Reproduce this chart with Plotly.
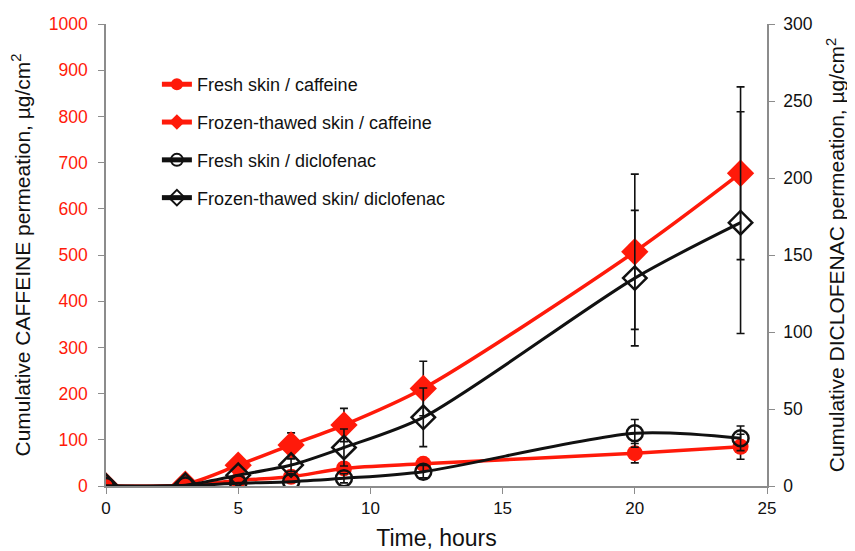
import plotly.graph_objects as go

# ---- data ----
time_h = [0, 3, 5, 7, 9, 12, 20, 24]

fresh_caffeine = [0, 1, 12, 20, 38, 48, 71, 85]
fresh_caffeine_err = [None, None, None, None, 8, 8, 21, 27]

frozen_caffeine = [0, 4, 45, 89, 132, 211, 507, 677]
frozen_caffeine_err = [None, None, None, 26, 36, 59, 168, 187]

fresh_diclofenac = [0, 0.3, 1.8, 2.8, 5, 9.3, 34.2, 31]
fresh_diclofenac_err = [None, None, None, None, 3, 4, 9, 8]

frozen_diclofenac = [0, 0.5, 7, 13.6, 25, 44.6, 135, 171]
frozen_diclofenac_err = [None, None, None, 4, 12, 19, 44, 72]

x_ticks = [0, 5, 10, 15, 20, 25]
left_ticks = list(range(0, 1001, 100))
right_ticks = list(range(0, 301, 50))

RED = "#ff1a0a"
BLACK = "#111111"
GRAY = "#8c8c8c"
FONT = "Liberation Sans, Arial, sans-serif"

series = [
    dict(name="Fresh skin / caffeine", y=fresh_caffeine, err=fresh_caffeine_err,
         axis="y", color=RED, width=3.5,
         marker=dict(symbol="circle", size=16, color=RED, line=dict(width=0))),
    dict(name="Frozen-thawed skin / caffeine", y=frozen_caffeine, err=frozen_caffeine_err,
         axis="y", color=RED, width=3.5,
         marker=dict(symbol="diamond", size=21, color=RED, line=dict(width=0))),
    dict(name="Fresh skin / diclofenac", y=fresh_diclofenac, err=fresh_diclofenac_err,
         axis="y2", color=BLACK, width=3,
         marker=dict(symbol="circle-open", size=16, color=BLACK, line=dict(width=2.5))),
    dict(name="Frozen-thawed skin/ diclofenac", y=frozen_diclofenac, err=frozen_diclofenac_err,
         axis="y2", color=BLACK, width=3,
         marker=dict(symbol="diamond-open", size=18, color=BLACK, line=dict(width=2.5))),
]

fig = go.Figure()

# error bars (only at the points where they are shown)
for s in series:
    idx = [i for i, e in enumerate(s["err"]) if e is not None]
    fig.add_trace(go.Scatter(
        x=[time_h[i] for i in idx], y=[s["y"][i] for i in idx],
        mode="markers", marker=dict(size=1, color="rgba(0,0,0,0)"),
        error_y=dict(type="data", array=[s["err"][i] for i in idx], visible=True,
                     color=BLACK, thickness=1.6, width=4),
        yaxis=s["axis"], showlegend=False, hoverinfo="skip"))

for s in series:
    fig.add_trace(go.Scatter(
        x=time_h, y=s["y"], name=s["name"], mode="lines+markers",
        line=dict(color=s["color"], width=s["width"], shape="spline", smoothing=0.8),
        marker=s["marker"], yaxis=s["axis"], legendgroup=s["name"]))

fig.update_layout(
    width=847, height=543,
    margin=dict(l=98, r=88, t=16, b=65),
    paper_bgcolor="white", plot_bgcolor="white",
    font=dict(family=FONT, size=17, color=BLACK),
    showlegend=True,
    legend=dict(x=0.077, y=0.909, xanchor="left", yanchor="top",
                font=dict(size=18, color=BLACK), bgcolor="rgba(0,0,0,0)",
                tracegroupgap=11.4, itemwidth=30, itemsizing="constant"),
    xaxis=dict(range=[0, 25], tickvals=x_ticks, showgrid=False, zeroline=False,
               showline=True, linecolor=GRAY, linewidth=1.5, automargin=False,
               ticks="outside", ticklen=6, tickcolor=GRAY,
               tickfont=dict(size=17, color=BLACK),
               title=dict(text="Time, hours", font=dict(size=23), standoff=21)),
    yaxis=dict(range=[0, 1000], tickvals=left_ticks, showgrid=False, zeroline=False,
               showline=True, linecolor=GRAY, linewidth=1.5, automargin=False,
               ticks="outside", ticklen=6, tickcolor=GRAY, ticklabelstandoff=7,
               tickfont=dict(size=17.5, color=RED),
               title=dict(text="Cumulative CAFFEINE permeation, µg/cm<sup>2</sup>",
                          font=dict(size=21, color=BLACK), standoff=14)),
    yaxis2=dict(range=[0, 300], tickvals=right_ticks, overlaying="y", side="right",
                anchor="x", showgrid=False, zeroline=False, automargin=False,
                showline=True, linecolor=GRAY, linewidth=1.5,
                ticks="outside", ticklen=6, tickcolor=GRAY, ticklabelstandoff=5,
                tickfont=dict(size=17.5, color=BLACK),
                title=dict(text="Cumulative DICLOFENAC permeation, µg/cm<sup>2</sup>",
                           font=dict(size=21, color=BLACK), standoff=18)),
)

fig.write_html("out.html")
